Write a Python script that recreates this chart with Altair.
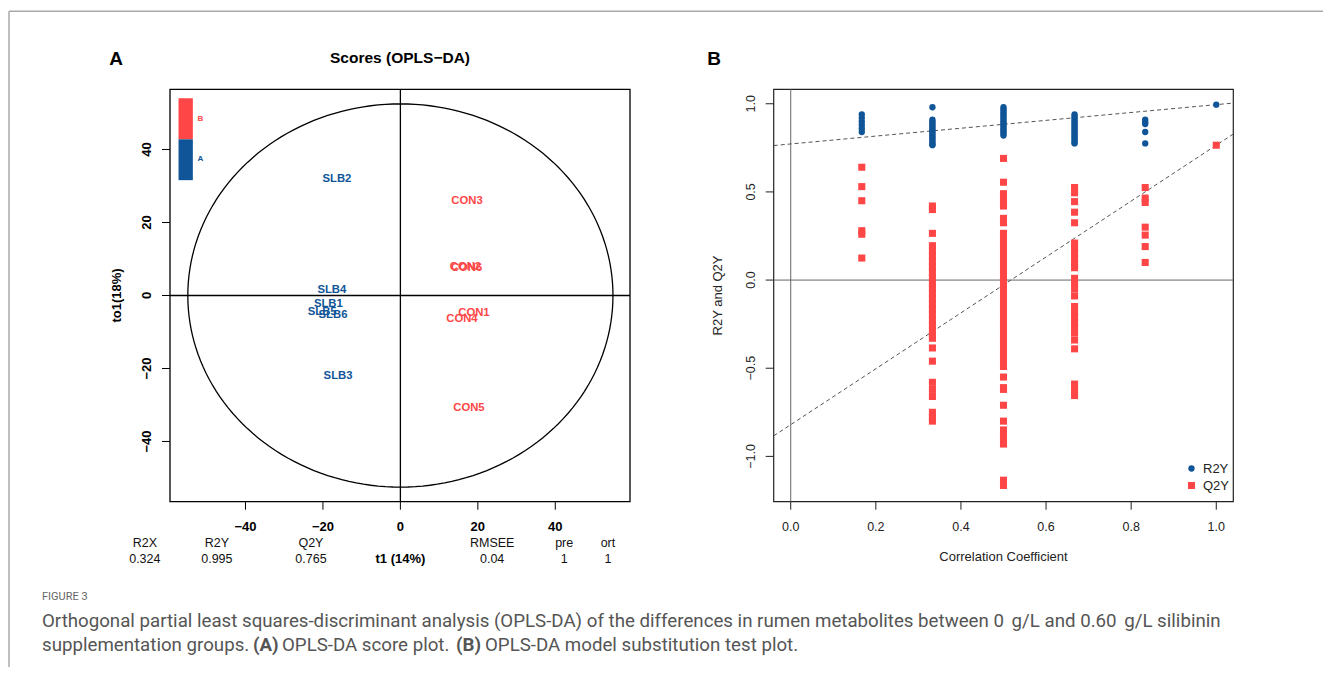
import math
import altair as alt
import pandas as pd

FONT = "Liberation Sans"
CAP_FONT = "Roboto"
BLUE = "#0F5597"
RED = "#FF4646"
W, H = 1315, 659

# ---------------- Panel A: OPLS-DA scores ----------------
SAMPLES = ["SLB1", "SLB2", "SLB3", "SLB4", "SLB5", "SLB6",
           "CON1", "CON2", "CON3", "CON4", "CON5", "CON6"]
GROUPS = ["A", "A", "A", "A", "A", "A", "B", "B", "B", "B", "B", "B"]
T1 = [-18.6, -16.4, -16.1, -17.7, -20.2, -17.4, 19.0, 16.8, 17.2, 15.9, 17.7, 17.1]
TO1 = [-2.4, 31.9, -22.1, 1.45, -4.6, -5.3, -4.85, 7.9, 25.8, -6.5, -30.7, 7.6]
A_XLIM = [-59.5, 59.3]
A_YLIM = [-56.5, 56.5]
A_TICKS = [-40, -20, 0, 20, 40]
A_TICK_LABELS = ["\u221240", "\u221220", "0", "20", "40"]
ELLIPSE_RADII = [54.9, 52.5]
STAT_NAMES = ["R2X", "R2Y", "Q2Y", "RMSEE", "pre", "ort"]
STAT_VALUES = ["0.324", "0.995", "0.765", "0.04", "1", "1"]
A_TITLE = "Scores (OPLS\u2212DA)"
A_XTITLE = "t1 (14%)"
A_YTITLE = "to1(18%)"
LEGEND_A = ["B", "A"]

# ---------------- Panel B: permutation test ----------------
PERM_CC = [0.167, 0.333, 0.5, 0.667, 0.833, 1.0]
R2Y_PERM = [
    [0.94, 0.92, 0.90, 0.88, 0.86, 0.84],
    [0.98, 0.91, 0.90, 0.89, 0.88, 0.87, 0.86, 0.85, 0.84, 0.83, 0.82, 0.81,
     0.80, 0.79, 0.78, 0.77, 0.765],
    [0.98, 0.97, 0.96, 0.95, 0.94, 0.93, 0.92, 0.91, 0.90, 0.89, 0.88, 0.87,
     0.86, 0.85, 0.84, 0.83, 0.82],
    [0.94, 0.93, 0.92, 0.91, 0.90, 0.89, 0.88, 0.87, 0.86, 0.85, 0.84, 0.83,
     0.82, 0.81, 0.80, 0.79, 0.78, 0.775],
    [0.91, 0.895, 0.885, 0.84, 0.775],
    [0.995],
]
Q2Y_PERM = [
    [0.64, 0.53, 0.45, 0.28, 0.26, 0.125],
    [0.42, 0.40, 0.265, 0.195, 0.165, 0.135, 0.105, 0.075, 0.045, 0.015, -0.015,
     -0.045, -0.075, -0.105, -0.135, -0.165, -0.195, -0.225, -0.255, -0.285,
     -0.315, -0.33, -0.385, -0.46, -0.58, -0.62, -0.66, -0.75, -0.78, -0.80],
    [0.69, 0.555, 0.49, 0.465, 0.44, 0.42, 0.35, 0.325, 0.265, 0.235, 0.205,
     0.175, 0.145, 0.115, 0.08, 0.05, 0.02, -0.01, -0.04, -0.07, -0.10, -0.13,
     -0.16, -0.19, -0.22, -0.25, -0.28, -0.31, -0.34, -0.37, -0.40, -0.43,
     -0.46, -0.49, -0.55, -0.61, -0.62, -0.71, -0.80, -0.85, -0.88, -0.905,
     -0.93, -1.135, -1.165],
    [0.525, 0.495, 0.445, 0.385, 0.325, 0.21, 0.18, 0.15, 0.12, 0.09, 0.07,
     0.01, -0.02, -0.05, -0.09, -0.15, -0.18, -0.21, -0.24, -0.27, -0.30,
     -0.34, -0.39, -0.59, -0.62, -0.655],
    [0.525, 0.465, 0.44, 0.30, 0.255, 0.19, 0.10],
    [0.765],
]
SERIES = ["R2Y", "Q2Y"]
FIT_R2Y = [0.772, 0.223]   # intercept, slope
FIT_Q2Y = [-0.82, 1.585]
B_XLIM = [-0.04, 1.04]
B_YLIM = [-1.257, 1.082]
B_XTICKS = [0.0, 0.2, 0.4, 0.6, 0.8, 1.0]
B_XTICK_LABELS = ["0.0", "0.2", "0.4", "0.6", "0.8", "1.0"]
B_YTICKS = [-1.0, -0.5, 0.0, 0.5, 1.0]
B_YTICK_LABELS = ["\u22121.0", "\u22120.5", "0.0", "0.5", "1.0"]
B_XTITLE = "Correlation Coefficient"
B_YTITLE = "R2Y and Q2Y"

CAPTION_LABEL = "FIGURE 3"
CAPTION_LINE1 = ("Orthogonal partial least squares-discriminant analysis (OPLS-DA) of the "
                 "differences in rumen metabolites between 0\u2009\u2009g/L and 0.60\u2009\u2009g/L silibinin")
CAPTION_LINE2 = ["supplementation groups.", "(A)", "OPLS-DA score plot.", "(B)",
                 "OPLS-DA model substitution test plot."]
CAPTION_LINE2_BOLD = [False, True, False, True, False]

# ---------------- layout (pixels, chart coordinates) ----------------
A_XR = [162, 622]
A_YR = [493.7, 81.3]
B_XR = [765.7, 1225.3]
B_YR = [493.7, 81.3]
TICK_LEN = 8
XLAB_Y = 518.5


def text_mark(txt, x, y, size, weight="normal", color="#000", angle=None,
              align="center", font=FONT, baseline="middle"):
    kw = dict(font=font, fontSize=size, fontWeight=weight, color=color,
              align=align, baseline=baseline)
    if angle is not None:
        kw["angle"] = angle
    return alt.Chart(pd.DataFrame({"t": [txt]})).mark_text(**kw).encode(
        x=alt.value(x), y=alt.value(y), text="t:N")


def axis_layers(xs, ys, xticks, xlabels, yticks, ylabels, xr, yr, weight, size, color):
    xdf = pd.DataFrame({"t": xticks, "lab": xlabels})
    ydf = pd.DataFrame({"t": yticks, "lab": ylabels})
    xt = alt.Chart(xdf).mark_rule(color=color, strokeWidth=1).encode(
        x=alt.X("t:Q", scale=xs, axis=None),
        y=alt.value(yr[0]), y2=alt.value(yr[0] + TICK_LEN))
    xl = alt.Chart(xdf).mark_text(font=FONT, fontSize=size, fontWeight=weight, color=color).encode(
        x=alt.X("t:Q", scale=xs, axis=None), y=alt.value(XLAB_Y), text="lab:N")
    yt = alt.Chart(ydf).mark_rule(color=color, strokeWidth=1).encode(
        y=alt.Y("t:Q", scale=ys, axis=None),
        x=alt.value(xr[0] - TICK_LEN), x2=alt.value(xr[0]))
    yl = alt.Chart(ydf).mark_text(font=FONT, fontSize=size, fontWeight=weight, color=color,
                                  angle=270).encode(
        y=alt.Y("t:Q", scale=ys, axis=None), x=alt.value(xr[0] - 23), text="lab:N")
    return [xt, xl, yt, yl]


# ================= Panel A =================
sAx = alt.Scale(domain=A_XLIM, range=A_XR, nice=False, zero=False)
sAy = alt.Scale(domain=A_YLIM, range=A_YR, nice=False, zero=False)

a_box = alt.Chart(pd.DataFrame({"x": [A_XLIM[0]], "x2": [A_XLIM[1]],
                                "y": [A_YLIM[0]], "y2": [A_YLIM[1]]})).mark_rect(
    fillOpacity=0, stroke="black", strokeWidth=1.3).encode(
    x=alt.X("x:Q", scale=sAx, axis=None), x2="x2:Q",
    y=alt.Y("y:Q", scale=sAy, axis=None), y2="y2:Q")

a_vline = alt.Chart(pd.DataFrame({"x": [0.0], "y": [A_YLIM[0]], "y2": [A_YLIM[1]]})).mark_rule(
    color="black", strokeWidth=1.3).encode(
    x=alt.X("x:Q", scale=sAx, axis=None), y=alt.Y("y:Q", scale=sAy, axis=None), y2="y2:Q")
a_hline = alt.Chart(pd.DataFrame({"y": [0.0], "x": [A_XLIM[0]], "x2": [A_XLIM[1]]})).mark_rule(
    color="black", strokeWidth=1.3).encode(
    y=alt.Y("y:Q", scale=sAy, axis=None), x=alt.X("x:Q", scale=sAx, axis=None), x2="x2:Q")

ang = list(range(0, 361, 2))
ell_df = pd.DataFrame({
    "i": list(range(len(ang))),
    "x": [ELLIPSE_RADII[0] * math.cos(math.radians(a)) for a in ang],
    "y": [ELLIPSE_RADII[1] * math.sin(math.radians(a)) for a in ang],
})
a_ell = alt.Chart(ell_df).mark_line(color="black", strokeWidth=1.3).encode(
    x=alt.X("x:Q", scale=sAx, axis=None), y=alt.Y("y:Q", scale=sAy, axis=None),
    order="i:Q")

colA = alt.Scale(domain=["A", "B"], range=[BLUE, RED])

# legend colour bar (top-left)
leg_df = pd.DataFrame({"g": LEGEND_A, "y": [42.8, 31.6], "y2": [54.05, 42.8],
                       "x": [-57.3, -57.3], "x2": [-53.6, -53.6],
                       "ty": [48.4, 37.4], "tx": [-52.4, -52.4]})
a_leg = alt.Chart(leg_df).mark_rect().encode(
    x=alt.X("x:Q", scale=sAx, axis=None), x2="x2:Q",
    y=alt.Y("y:Q", scale=sAy, axis=None), y2="y2:Q",
    color=alt.Color("g:N", scale=colA, legend=None))
a_leg_t = alt.Chart(leg_df).mark_text(font=FONT, fontSize=8, fontWeight="bold", align="left").encode(
    x=alt.X("tx:Q", scale=sAx, axis=None), y=alt.Y("ty:Q", scale=sAy, axis=None),
    text="g:N", color=alt.Color("g:N", scale=colA, legend=None))

score_df = pd.DataFrame({"s": SAMPLES, "g": GROUPS, "t1": T1, "to1": TO1})
a_lab = alt.Chart(score_df).mark_text(font=FONT, fontSize=11.3, fontWeight="bold").encode(
    x=alt.X("t1:Q", scale=sAx, axis=None),
    y=alt.Y("to1:Q", scale=sAy, axis=None),
    text="s:N",
    color=alt.Color("g:N", scale=colA, legend=None))

STAT_X = [-66.0, -47.4, -23.1, 23.7, 42.3, 53.6]
stat_df = pd.DataFrame({"n": STAT_NAMES, "v": STAT_VALUES, "x": STAT_X})
a_stat_n = alt.Chart(stat_df).mark_text(font=FONT, fontSize=12.5, color="#111").encode(
    x=alt.X("x:Q", scale=sAx, axis=None), y=alt.value(535), text="n:N")
a_stat_v = alt.Chart(stat_df).mark_text(font=FONT, fontSize=12.5, color="#111").encode(
    x=alt.X("x:Q", scale=sAx, axis=None), y=alt.value(551), text="v:N")
a_xt = alt.Chart(pd.DataFrame({"t": [A_XTITLE], "x": [0.0]})).mark_text(
    font=FONT, fontSize=13, fontWeight="bold").encode(
    x=alt.X("x:Q", scale=sAx, axis=None), y=alt.value(551), text="t:N")

a_axes = axis_layers(sAx, sAy, A_TICKS, A_TICK_LABELS, A_TICKS, A_TICK_LABELS,
                     A_XR, A_YR, "bold", 13, "black")

panelA = alt.layer(a_box, a_ell, a_vline, a_hline, a_leg, a_leg_t, a_lab,
                   a_stat_n, a_stat_v, a_xt, *a_axes)

# ================= Panel B =================
sBx = alt.Scale(domain=B_XLIM, range=B_XR, nice=False, zero=False)
sBy = alt.Scale(domain=B_YLIM, range=B_YR, nice=False, zero=False)

b_box = alt.Chart(pd.DataFrame({"x": [B_XLIM[0]], "x2": [B_XLIM[1]],
                                "y": [B_YLIM[0]], "y2": [B_YLIM[1]]})).mark_rect(
    fillOpacity=0, stroke="#222", strokeWidth=1.2).encode(
    x=alt.X("x:Q", scale=sBx, axis=None), x2="x2:Q",
    y=alt.Y("y:Q", scale=sBy, axis=None), y2="y2:Q")
b_vline = alt.Chart(pd.DataFrame({"x": [0.0], "y": [B_YLIM[0]], "y2": [B_YLIM[1]]})).mark_rule(
    color="#666", strokeWidth=1).encode(
    x=alt.X("x:Q", scale=sBx, axis=None), y=alt.Y("y:Q", scale=sBy, axis=None), y2="y2:Q")
b_hline = alt.Chart(pd.DataFrame({"y": [0.0], "x": [B_XLIM[0]], "x2": [B_XLIM[1]]})).mark_rule(
    color="#666", strokeWidth=1).encode(
    y=alt.Y("y:Q", scale=sBy, axis=None), x=alt.X("x:Q", scale=sBx, axis=None), x2="x2:Q")

fit_df = pd.DataFrame({
    "x": [B_XLIM[0], B_XLIM[0]],
    "x2": [B_XLIM[1], B_XLIM[1]],
    "y": [f[0] + f[1] * B_XLIM[0] for f in (FIT_R2Y, FIT_Q2Y)],
    "y2": [f[0] + f[1] * B_XLIM[1] for f in (FIT_R2Y, FIT_Q2Y)],
})
b_fit = alt.Chart(fit_df).mark_rule(color="#555", strokeWidth=1, strokeDash=[4, 3]).encode(
    x=alt.X("x:Q", scale=sBx, axis=None), x2="x2:Q",
    y=alt.Y("y:Q", scale=sBy, axis=None), y2="y2:Q")

rows = []
for cc, vals in zip(PERM_CC, R2Y_PERM):
    for v in vals:
        rows.append({"cc": cc, "val": v, "series": "R2Y"})
for cc, vals in zip(PERM_CC, Q2Y_PERM):
    for v in vals:
        rows.append({"cc": cc, "val": v, "series": "Q2Y"})
perm_df = pd.DataFrame(rows)

b_pts = alt.Chart(perm_df).mark_point(filled=True, opacity=1, strokeWidth=0).encode(
    x=alt.X("cc:Q", scale=sBx, axis=None),
    y=alt.Y("val:Q", scale=sBy, axis=None),
    color=alt.Color("series:N", scale=alt.Scale(domain=SERIES, range=[BLUE, RED]),
                    legend=alt.Legend(title=None, orient="none", legendX=1177, legendY=454,
                                      labelFont=FONT, labelFontSize=13, labelColor="#222",
                                      padding=0, rowPadding=3, labelOffset=5,
                                      symbolStrokeWidth=0)),
    shape=alt.Shape("series:N", scale=alt.Scale(domain=SERIES, range=["circle", "square"])),
    size=alt.Size("series:N", scale=alt.Scale(domain=SERIES, range=[40, 50])),
)

b_axes = axis_layers(sBx, sBy, B_XTICKS, B_XTICK_LABELS, B_YTICKS, B_YTICK_LABELS,
                     B_XR, B_YR, "normal", 12.5, "#222")

panelB = alt.layer(b_box, b_vline, b_hline, b_fit, b_pts, *b_axes)

# ================= decorations / text =================
deco = [
    text_mark("A", 108, 51, 19, "bold"),
    text_mark("B", 706, 51, 19, "bold"),
    text_mark(A_TITLE, 392, 49.5, 15.5, "bold"),
    text_mark(A_YTITLE, 109, 287.5, 13, "bold", angle=270),
    text_mark(B_YTITLE, 709.5, 287.5, 13, "normal", color="#222", angle=270),
    text_mark(B_XTITLE, 995.5, 549, 13, "normal", color="#222"),
    text_mark(CAPTION_LABEL, 34, 589, 11, "normal", color="#666", align="left", font=CAP_FONT),
    text_mark(CAPTION_LINE1, 34, 613, 18.7, "normal", color="#555", align="left", font=CAP_FONT),
]
cap2_x = [34, 245, 274, 448, 477]
for part, bold, x in zip(CAPTION_LINE2, CAPTION_LINE2_BOLD, cap2_x):
    deco.append(text_mark(part, x, 637, 18.7, "bold" if bold else "normal",
                          color="#555", align="left", font=CAP_FONT))

frame = [
    alt.Chart(pd.DataFrame({"k": [0]})).mark_rule(color="#aaaaaa", strokeWidth=1.5).encode(
        x=alt.value(1), x2=alt.value(W), y=alt.value(3.3)),
    alt.Chart(pd.DataFrame({"k": [0]})).mark_rule(color="#aaaaaa", strokeWidth=1.5).encode(
        x=alt.value(1), y=alt.value(3.3), y2=alt.value(H)),
]

chart = alt.layer(panelA, panelB, *deco, *frame).resolve_scale(
    x="independent", y="independent", color="independent",
    shape="independent", size="independent"
).properties(
    width=W, height=H, padding=0,
    autosize=alt.AutoSizeParams(type="none"),
    background="white",
).configure_view(stroke=None)

chart.save("out.html", embed_options={"renderer": "svg", "actions": False})
